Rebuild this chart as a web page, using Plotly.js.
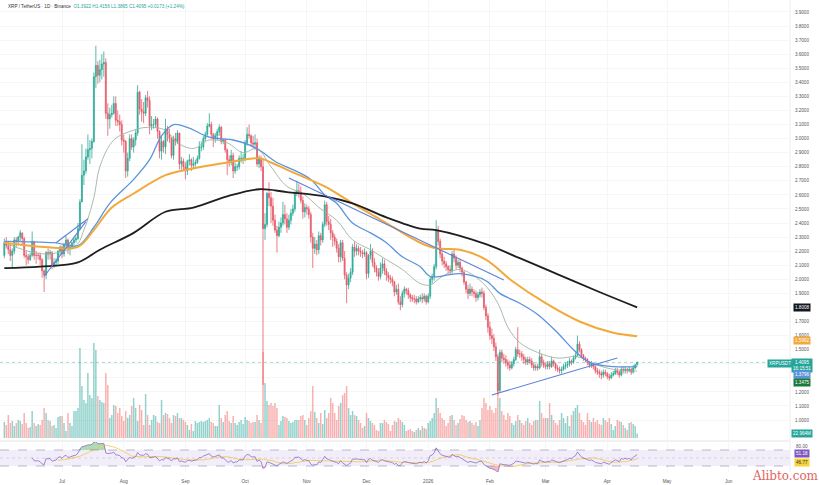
<!DOCTYPE html>
<html><head><meta charset="utf-8">
<script src="https://cdn.plot.ly/plotly-3.0.1.min.js"></script>
<style>html,body{margin:0;padding:0;background:#fff;}#chart{width:819px;height:485px;}</style>
</head><body><div id="chart"></div>
<script>
// ---- daily candles, XRP/USDT 1D, 2 Jun 2025 .. 16 Apr 2026 ----
const openP = [
2.17,2.26,2.24,2.21,2.17,2.20,2.28,2.27,2.30,2.33,2.29,2.17,2.16,2.14,2.17,2.27,2.17,2.17,2.17,2.14,2.06,2.03,2.19,2.18,2.19,2.10,2.12,2.13,2.20,
2.23,2.18,2.25,2.28,2.22,2.23,2.26,2.28,2.29,2.36,2.55,2.74,2.77,2.87,2.92,2.93,2.98,3.44,3.52,3.45,3.49,3.53,3.54,3.18,3.14,3.17,3.18,3.25,3.13,3.12,3.10,
2.99,2.98,2.77,2.86,3.00,2.94,2.99,3.04,3.33,3.21,3.19,3.18,3.29,3.27,3.09,3.10,3.10,3.14,3.05,2.91,2.98,2.94,3.07,3.03,3.00,2.88,3.00,2.98,3.04,2.82,2.84,
2.80,2.77,2.84,2.85,2.81,2.82,2.83,2.86,2.94,2.94,3.00,3.03,3.09,3.10,3.03,3.00,3.02,3.05,3.08,2.98,2.99,2.92,2.85,2.83,2.88,2.77,2.80,2.80,2.86,2.86,
2.86,2.97,3.03,3.02,2.97,2.96,2.97,2.82,2.86,2.80,2.36,2.39,2.61,2.58,2.52,2.42,2.35,2.31,2.37,2.40,2.46,2.43,2.37,2.42,2.47,2.50,2.61,2.63,2.62,2.56,2.48,
2.51,2.50,2.46,2.30,2.22,2.25,2.21,2.31,2.28,2.39,2.53,2.41,2.39,2.33,2.30,2.27,2.22,2.16,2.26,2.15,2.03,1.96,2.01,2.05,2.23,2.20,2.22,2.20,2.19,2.18,
2.19,2.04,2.17,2.20,2.12,2.08,2.05,2.02,2.08,2.11,2.06,2.03,2.01,2.00,1.98,1.91,1.93,1.84,1.82,1.90,1.93,1.92,1.89,1.87,1.86,1.86,1.84,1.86,1.87,1.86,1.88,
1.84,1.88,2.00,2.02,2.09,2.35,2.27,2.18,2.13,2.11,2.09,2.07,2.06,2.18,2.15,2.10,2.12,2.08,2.05,1.98,1.93,1.90,1.93,1.91,1.90,1.87,1.89,1.91,1.90,1.80,1.74,
1.66,1.60,1.58,1.52,1.45,1.21,1.48,1.44,1.43,1.41,1.39,1.37,1.40,1.43,1.50,1.47,1.47,1.45,1.43,1.41,1.43,1.42,1.39,1.37,1.38,1.37,1.45,1.41,
1.39,1.38,1.40,1.38,1.42,1.40,1.37,1.36,1.35,1.36,1.38,1.39,1.40,1.42,1.41,1.44,1.46,1.54,1.50,1.46,1.44,1.43,1.41,1.39,1.40,1.38,1.35,1.34,1.33,1.32,1.34,
1.33,1.31,1.30,1.32,1.33,1.35,1.34,1.32,1.36,1.35,1.36,1.35,1.36,1.34,1.37,1.3922];
const highP = [
2.29,2.30,2.27,2.25,2.22,2.30,2.30,2.31,2.35,2.33,2.30,2.20,2.18,2.19,2.34,2.27,2.20,2.19,2.19,2.15,2.07,2.20,2.22,2.21,2.20,2.15,2.15,2.21,2.24,
2.24,2.26,2.31,2.29,2.25,2.27,2.30,2.31,2.40,2.57,2.96,2.85,2.93,3.03,2.99,3.00,3.47,3.66,3.55,3.56,3.60,3.62,3.57,3.25,3.22,3.24,3.30,3.30,3.20,3.17,3.13,
3.03,2.99,2.90,3.03,3.03,3.01,3.06,3.38,3.34,3.28,3.26,3.31,3.34,3.30,3.16,3.14,3.16,3.15,3.06,3.02,2.99,3.14,3.09,3.07,3.01,3.02,3.04,3.06,3.04,2.87,2.86,
2.83,2.85,2.89,2.86,2.87,2.85,2.88,2.98,2.98,3.02,3.05,3.11,3.18,3.12,3.04,3.04,3.07,3.10,3.09,3.00,3.00,2.93,2.88,2.92,2.90,2.83,2.82,2.88,2.91,2.89,
2.99,3.08,3.10,3.03,3.02,3.03,3.00,2.88,2.88,2.85,2.47,2.62,2.69,2.62,2.58,2.46,2.38,2.41,2.44,2.55,2.53,2.47,2.46,2.50,2.53,2.63,2.70,2.68,2.66,2.59,2.54,
2.53,2.52,2.48,2.33,2.30,2.28,2.34,2.33,2.41,2.56,2.55,2.45,2.43,2.35,2.32,2.29,2.25,2.28,2.28,2.20,2.05,2.04,2.08,2.25,2.27,2.25,2.24,2.23,2.21,2.22,
2.20,2.18,2.25,2.22,2.15,2.10,2.08,2.12,2.15,2.14,2.08,2.05,2.03,2.02,1.99,1.96,1.97,1.88,1.92,1.95,1.94,1.94,1.90,1.89,1.89,1.88,1.88,1.89,1.90,1.90,1.89,
1.90,2.02,2.04,2.11,2.42,2.38,2.29,2.20,2.16,2.13,2.10,2.10,2.20,2.21,2.17,2.14,2.14,2.09,2.06,1.99,1.96,1.97,1.95,1.93,1.92,1.91,1.93,1.94,1.92,1.82,1.76,
1.70,1.65,1.61,1.55,1.47,1.50,1.50,1.47,1.46,1.43,1.42,1.42,1.45,1.52,1.66,1.50,1.49,1.47,1.45,1.45,1.45,1.44,1.41,1.40,1.40,1.50,1.47,1.43,
1.41,1.42,1.42,1.45,1.43,1.41,1.39,1.38,1.38,1.40,1.41,1.42,1.44,1.43,1.46,1.48,1.60,1.56,1.51,1.47,1.45,1.44,1.42,1.42,1.41,1.39,1.37,1.36,1.35,1.36,1.36,
1.34,1.33,1.34,1.35,1.37,1.37,1.35,1.38,1.38,1.38,1.37,1.38,1.37,1.39,1.40,1.4156];
const lowP = [
2.15,2.22,2.18,2.13,2.08,2.18,2.23,2.24,2.27,2.24,2.15,2.10,2.11,2.13,2.16,2.14,2.11,2.14,2.10,2.01,1.91,2.00,2.14,2.14,2.07,2.08,2.09,2.11,2.17,
2.15,2.16,2.23,2.18,2.17,2.21,2.24,2.26,2.28,2.35,2.55,2.67,2.75,2.85,2.82,2.86,2.97,3.36,3.39,3.40,3.42,3.44,3.14,3.02,3.07,3.15,3.17,3.09,3.09,3.05,2.95,
2.90,2.72,2.73,2.84,2.92,2.90,2.95,3.02,3.17,3.12,3.11,3.16,3.22,3.03,3.06,3.07,3.08,3.00,2.86,2.85,2.90,2.89,2.98,2.97,2.86,2.85,2.95,2.96,2.78,2.78,2.77,
2.71,2.74,2.81,2.77,2.78,2.80,2.82,2.85,2.91,2.92,2.98,3.02,3.08,3.00,2.94,2.97,2.99,3.02,2.96,2.96,2.90,2.74,2.80,2.81,2.72,2.75,2.77,2.78,2.83,2.82,
2.84,2.95,3.00,2.94,2.93,2.92,2.80,2.79,2.77,1.25,2.28,2.37,2.52,2.40,2.38,2.33,2.19,2.30,2.33,2.38,2.39,2.33,2.35,2.39,2.45,2.48,2.59,2.58,2.54,2.43,2.44,
2.46,2.43,2.26,2.08,2.18,2.17,2.18,2.24,2.26,2.37,2.38,2.35,2.28,2.23,2.24,2.19,2.12,2.12,2.13,2.00,1.83,1.93,1.98,2.03,2.16,2.17,2.17,2.16,2.15,2.16,
2.00,2.01,2.14,2.09,2.05,2.02,1.99,2.00,2.04,2.03,1.99,1.98,1.97,1.95,1.88,1.89,1.82,1.78,1.80,1.87,1.89,1.86,1.84,1.84,1.83,1.82,1.83,1.84,1.83,1.84,1.82,
1.83,1.86,1.97,1.99,2.07,2.24,2.15,2.10,2.08,2.06,2.04,2.03,2.04,2.12,2.07,2.08,2.05,2.02,1.96,1.90,1.86,1.88,1.88,1.87,1.84,1.85,1.87,1.87,1.78,1.71,1.62,
1.57,1.54,1.49,1.42,1.18,1.20,1.41,1.40,1.38,1.36,1.35,1.36,1.38,1.42,1.45,1.44,1.42,1.40,1.39,1.39,1.40,1.37,1.35,1.35,1.35,1.36,1.38,1.37,
1.36,1.36,1.36,1.37,1.38,1.35,1.34,1.33,1.33,1.35,1.36,1.37,1.38,1.39,1.40,1.43,1.45,1.48,1.44,1.42,1.41,1.39,1.37,1.37,1.36,1.33,1.32,1.30,1.29,1.30,1.31,
1.29,1.28,1.29,1.31,1.32,1.32,1.30,1.31,1.33,1.33,1.33,1.34,1.32,1.33,1.36,1.3865];
const closeP = [
2.26,2.24,2.21,2.17,2.20,2.28,2.27,2.30,2.33,2.29,2.17,2.16,2.14,2.17,2.27,2.17,2.17,2.17,2.14,2.06,2.03,2.19,2.18,2.19,2.10,2.12,2.13,2.20,2.23,
2.18,2.25,2.28,2.22,2.23,2.26,2.28,2.29,2.36,2.55,2.74,2.77,2.87,2.92,2.93,2.98,3.44,3.52,3.45,3.49,3.53,3.54,3.18,3.14,3.17,3.18,3.25,3.13,3.12,3.10,2.99,
2.98,2.77,2.86,3.00,2.94,2.99,3.04,3.33,3.21,3.19,3.18,3.29,3.27,3.09,3.10,3.10,3.14,3.05,2.91,2.98,2.94,3.07,3.03,3.00,2.88,3.00,2.98,3.04,2.82,2.84,2.80,
2.77,2.84,2.85,2.81,2.82,2.83,2.86,2.94,2.94,3.00,3.03,3.09,3.10,3.03,3.00,3.02,3.05,3.08,2.98,2.99,2.92,2.85,2.83,2.88,2.77,2.80,2.80,2.86,2.86,2.86,
2.97,3.03,3.02,2.97,2.96,2.97,2.82,2.86,2.80,2.36,2.39,2.61,2.58,2.52,2.42,2.35,2.31,2.37,2.40,2.46,2.43,2.37,2.42,2.47,2.50,2.61,2.63,2.62,2.56,2.48,2.51,
2.50,2.46,2.30,2.22,2.25,2.21,2.31,2.28,2.39,2.53,2.41,2.39,2.33,2.30,2.27,2.22,2.16,2.26,2.15,2.03,1.96,2.01,2.05,2.23,2.20,2.22,2.20,2.19,2.18,2.19,
2.04,2.17,2.20,2.12,2.08,2.05,2.02,2.08,2.11,2.06,2.03,2.01,2.00,1.98,1.91,1.93,1.84,1.82,1.90,1.93,1.92,1.89,1.87,1.86,1.86,1.84,1.86,1.87,1.86,1.88,1.84,
1.88,2.00,2.02,2.09,2.35,2.27,2.18,2.13,2.11,2.09,2.07,2.06,2.18,2.15,2.10,2.12,2.08,2.05,1.98,1.93,1.90,1.93,1.91,1.90,1.87,1.89,1.91,1.90,1.80,1.74,1.66,
1.60,1.58,1.52,1.45,1.21,1.48,1.44,1.43,1.41,1.39,1.37,1.40,1.43,1.50,1.47,1.47,1.45,1.43,1.41,1.43,1.42,1.39,1.37,1.38,1.37,1.45,1.41,1.39,
1.38,1.40,1.38,1.42,1.40,1.37,1.36,1.35,1.36,1.38,1.39,1.40,1.42,1.41,1.44,1.46,1.54,1.50,1.46,1.44,1.43,1.41,1.39,1.40,1.38,1.35,1.34,1.33,1.32,1.34,1.33,
1.31,1.30,1.32,1.33,1.35,1.34,1.32,1.36,1.35,1.36,1.35,1.36,1.34,1.37,1.3922,1.4095];
const volumeM = [
80,65,115,75,85,60,75,90,85,70,125,75,50,55,135,75,60,70,65,90,150,125,90,85,60,65,50,105,110,
110,75,35,125,75,60,135,135,150,450,260,190,175,325,215,200,475,440,210,190,180,175,325,265,100,115,165,160,125,150,110,
85,135,100,115,160,200,150,85,165,140,65,220,115,65,90,115,110,80,75,190,115,125,120,100,75,115,110,125,100,100,90,
80,65,40,70,35,85,75,80,85,80,85,90,100,80,75,60,60,165,100,80,115,135,85,75,110,75,65,80,90,70,
105,90,85,75,80,80,115,90,75,430,275,185,165,175,160,175,150,65,85,110,105,100,85,75,80,90,90,90,110,115,90,
65,100,135,260,130,100,75,125,70,140,100,125,200,175,125,90,160,175,215,225,260,150,115,135,115,110,90,75,50,60,
125,100,85,75,65,40,35,75,75,90,80,70,35,65,85,80,100,90,80,65,35,40,45,35,30,40,50,40,60,50,45,
75,85,100,125,200,150,125,100,90,60,75,110,115,90,65,75,95,115,110,90,80,85,75,65,80,60,90,150,200,175,140,
160,140,125,150,275,200,135,115,90,125,110,75,65,85,115,90,75,65,85,100,75,65,85,90,90,185,125,100,
100,100,175,115,90,75,65,90,125,100,75,110,60,115,135,150,165,125,90,80,65,125,90,80,100,80,90,70,65,100,90,
80,100,70,40,60,90,85,80,65,50,40,75,80,70,60,22.964];

// ---- moving-average lines (day index from 2 Jun 2025, value) ----
const ma200Day = [0,18,37,48,65,81,95,112,128,142,161,175,192,209,217,242,259,279,299,318];
const ma200Val = [2.08,2.09,2.12,2.21,2.33,2.48,2.51,2.59,2.64,2.62,2.59,2.54,2.44,2.36,2.35,2.25,2.15,2.03,1.91,1.8008];
const ma100Day = [0,20,37,45,54,65,81,92,112,128,134,145,161,175,192,209,217,229,242,255,272,289,306,318];
const ma100Val = [2.26,2.23,2.23,2.35,2.51,2.61,2.74,2.78,2.83,2.86,2.83,2.76,2.66,2.54,2.40,2.26,2.22,2.21,2.14,1.99,1.83,1.70,1.62,1.5962];
const ma50Day = [0,25,37,45,53,65,73,79,85,92,103,115,124,129,137,145,154,161,167,175,184,192,200,209,214,229,242,249,259,268,278,286,294,306,318];
const ma50Val = [2.27,2.26,2.24,2.37,2.54,2.71,2.85,3.02,3.10,3.08,3.01,2.99,2.95,2.91,2.83,2.78,2.71,2.60,2.54,2.40,2.33,2.26,2.16,2.09,2.02,2.04,1.99,1.90,1.83,1.75,1.62,1.50,1.41,1.38,1.3796];
const ma20Day = [0,20,36,40,45,48,55,65,72,81,87,95,103,112,120,127,134,142,150,159,167,175,184,192,200,209,214,220,229,240,248,253,259,268,278,288,296,306,318];
const ma20Val = [2.26,2.18,2.24,2.35,2.58,2.80,2.99,3.06,3.08,3.06,2.97,2.93,2.99,2.97,2.90,2.93,2.80,2.66,2.61,2.50,2.42,2.28,2.21,2.14,2.07,1.97,1.96,2.02,2.07,1.98,1.83,1.66,1.55,1.48,1.44,1.45,1.40,1.36,1.3475];

// ---- drawn trend lines (day index, price) ----
const trendLines = [
  {d:[20,41], p:[2.02,2.41]},
  {d:[26,42], p:[2.26,2.43]},
  {d:[143,251], p:[2.72,1.995]},
  {d:[245,308], p:[1.178,1.441]}
];

// ---- axis labels ----
const priceTicks = [1.0,1.1,1.2,1.3,1.4,1.5,1.6,1.7,1.8,1.9,2.0,2.1,2.2,2.3,2.4,2.5,2.6,2.7,2.8,2.9,3.0,3.1,3.2,3.3,3.4,3.5,3.6,3.7,3.8,3.9];
const monthTicks = ['2025-07-01','2025-08-01','2025-09-01','2025-10-01','2025-11-01','2025-12-01','2026-01-01','2026-02-01','2026-03-01','2026-04-01','2026-05-01','2026-06-01'];
const monthLabels = ['Jul','Aug','Sep','Oct','Nov','Dec','2026','Feb','Mar','Apr','May','Jun'];

function dayStr(i){ const d = new Date(Date.UTC(2025,5,2) + Math.round(i)*86400000); return d.toISOString().slice(0,10); }
const dates = closeP.map((_,i)=>dayStr(i));

// RSI (14, Wilder) and its 14-SMA, computed from the closes
function rsiCalc(cl,n){
  const out = new Array(cl.length).fill(null); let g=0,l=0;
  for(let i=1;i<cl.length;i++){
    const ch = cl[i]-cl[i-1], up=Math.max(ch,0), dn=Math.max(-ch,0);
    if(i<=n){ g+=up; l+=dn; if(i===n){ g/=n; l/=n; out[i]=100-100/(1+g/(l||1e-9)); } }
    else { g=(g*(n-1)+up)/n; l=(l*(n-1)+dn)/n; out[i]=100-100/(1+g/(l||1e-9)); }
  }
  return out;
}
const rsi = rsiCalc(closeP,14);
const rsiMa = rsi.map((v,i)=>{ const w=rsi.slice(Math.max(0,i-13),i+1).filter(x=>x!==null); return (v===null||w.length<14)?null:w.reduce((a,b)=>a+b,0)/w.length; });

// ---- geometry ----
const W=819,H=485,ML=0,MR=29,MT=0,MB=13;
const PW=W-ML-MR, PH=H-MT-MB;
const px = x => (x-ML)/PW;
const py = y => 1-(y-MT)/PH;

const INC='#2bab97', DEC='#e65a6a';
const volCol = closeP.map((c,i)=> c>=openP[i] ? 'rgba(38,166,154,0.5)' : 'rgba(239,83,80,0.45)');

const traces = [
  {type:'bar', x:dates, y:volumeM, yaxis:'y2', marker:{color:volCol, line:{width:0}}, hoverinfo:'skip'},
  {type:'candlestick', x:dates, open:openP, high:highP, low:lowP, close:closeP,
   increasing:{line:{color:INC,width:0.8}, fillcolor:INC},
   decreasing:{line:{color:DEC,width:0.8}, fillcolor:DEC}, whiskerwidth:0, hoverinfo:'skip'},
  {type:'scatter', mode:'lines', x:ma20Day.map(dayStr), y:ma20Val, line:{color:'rgba(160,180,160,0.9)', width:1, shape:'spline', smoothing:1}, hoverinfo:'skip'},
  {type:'scatter', mode:'lines', x:ma50Day.map(dayStr), y:ma50Val, line:{color:'#5b93dc', width:1.3, shape:'spline', smoothing:1}, hoverinfo:'skip'},
  {type:'scatter', mode:'lines', x:ma100Day.map(dayStr), y:ma100Val, line:{color:'#f2a93b', width:2, shape:'spline', smoothing:1}, hoverinfo:'skip'},
  {type:'scatter', mode:'lines', x:ma200Day.map(dayStr), y:ma200Val, line:{color:'#1e1e1e', width:1.8, shape:'spline', smoothing:1}, hoverinfo:'skip'}
];
trendLines.forEach(t=>traces.push({type:'scatter', mode:'lines', x:t.d.map(dayStr), y:t.p, line:{color:'#5f7fd8', width:1.1}, hoverinfo:'skip'}));
// RSI pane
traces.push({type:'scatter', mode:'lines', x:dates, y:rsi.map(v=>v===null?null:70), yaxis:'y3', line:{width:0,color:'rgba(0,0,0,0)'}, hoverinfo:'skip'});
traces.push({type:'scatter', mode:'lines', x:dates, y:rsi.map(v=>v===null?null:Math.max(v,70)), yaxis:'y3', line:{width:0,color:'rgba(0,0,0,0)'}, fill:'tonexty', fillcolor:'rgba(76,175,80,0.45)', hoverinfo:'skip'});
traces.push({type:'scatter', mode:'lines', x:dates, y:rsi.map(v=>v===null?null:30), yaxis:'y3', line:{width:0,color:'rgba(0,0,0,0)'}, hoverinfo:'skip'});
traces.push({type:'scatter', mode:'lines', x:dates, y:rsi.map(v=>v===null?null:Math.min(v,30)), yaxis:'y3', line:{width:0,color:'rgba(0,0,0,0)'}, fill:'tonexty', fillcolor:'rgba(242,54,69,0.35)', hoverinfo:'skip'});
traces.push({type:'scatter', mode:'lines', x:dates, y:rsiMa, yaxis:'y3', line:{color:'#f3c846', width:0.8}, hoverinfo:'skip'});
traces.push({type:'scatter', mode:'lines', x:dates, y:rsi, yaxis:'y3', line:{color:'#8a6cc6', width:0.8}, hoverinfo:'skip'});

const F = 'Liberation Sans, Arial, sans-serif';
function box(text, ypx, bg, fg, xpx){
  return {xref:'paper', yref:'paper', x:px(xpx||802), y:py(ypx), text:text, showarrow:false,
          xanchor:'center', yanchor:'middle', bgcolor:bg, borderpad:1,
          font:{family:F, size:4.6, color:fg||'#fff'}};
}
const annotations = [
  {xref:'paper', yref:'paper', x:px(6), y:py(7), xanchor:'left', yanchor:'middle', showarrow:false,
   text:'XRP / TetherUS · 1D · Binance&nbsp;&nbsp;<span style="color:#26a69a">O1.3922 H1.4156 L1.3865 C1.4095 +0.0173 (+1.24%)</span>',
   font:{family:F, size:4.6, color:'#333'}},
  box('1.8008', 307, '#131722'),
  box('1.5962', 340, '#f2a93b'),
  box('XRPUSDT', 363, '#26a69a', '#fff', 780),
  box('1.4095<br>16:15:51', 365, '#26a69a'),
  box('1.3796', 374, '#5b93dc'),
  box('1.3475', 382, '#1b7a3a'),
  box('22.964M', 433, '#26a69a'),
  {xref:'paper', yref:'paper', x:px(802), y:py(446), xanchor:'center', yanchor:'middle', showarrow:false, text:'80.00', font:{family:F, size:4.6, color:'#555'}},
  box('51.18', 453, '#7e57c2'),
  box('46.77', 462, '#f5d33a', '#333'),
  {xref:'paper', yref:'paper', x:px(785), y:py(476), xanchor:'center', yanchor:'middle', showarrow:false,
   text:'Alibto.com', font:{family:'DejaVu Serif, serif', size:12, color:'#e06464'}}
];

const shapes = [
  {type:'rect', xref:'paper', x0:0, x1:1, yref:'y3', y0:30, y1:70, fillcolor:'rgba(126,87,194,0.10)', line:{width:0}, layer:'below'},
  {type:'line', xref:'paper', x0:0, x1:1, yref:'y3', y0:70, y1:70, line:{color:'rgba(120,110,160,0.7)', width:0.7, dash:'dash'}},
  {type:'line', xref:'paper', x0:0, x1:1, yref:'y3', y0:30, y1:30, line:{color:'rgba(120,110,160,0.7)', width:0.7, dash:'dash'}},
  {type:'line', xref:'paper', x0:0, x1:1, yref:'y3', y0:50, y1:50, line:{color:'rgba(120,110,160,0.35)', width:0.6, dash:'dot'}},
  {type:'line', xref:'paper', x0:0, x1:1, yref:'y', y0:1.4095, y1:1.4095, line:{color:'rgba(38,166,154,0.6)', width:0.7, dash:'dot'}},
  {type:'line', xref:'paper', x0:0, x1:1, yref:'paper', y0:py(441), y1:py(441), line:{color:'#e4e4e4', width:1}},
  {type:'line', xref:'paper', x0:1, x1:1, yref:'paper', y0:0, y1:1, line:{color:'#eeeeee', width:1}}
];

const layout = {
  width:W, height:H, margin:{l:ML, r:MR, t:MT, b:MB}, paper_bgcolor:'#fff', plot_bgcolor:'#fff',
  showlegend:false, bargap:0.25,
  xaxis:{type:'date', range:['2025-05-30 20:00','2026-07-01 19:00'], anchor:'y3',
         tickvals:monthTicks, ticktext:monthLabels, tickfont:{family:F, size:4.6, color:'#555'},
         ticks:'outside', ticklen:4, tickcolor:'rgba(0,0,0,0)',
         showgrid:true, gridcolor:'#f2f2f2', gridwidth:0.7, zeroline:false, showline:false,
         rangeslider:{visible:false}, fixedrange:true},
  yaxis:{domain:[py(440),1], range:[0.858,3.985], side:'right', anchor:'x',
         tickvals:priceTicks, ticktext:priceTicks.map(v=>v.toFixed(4)),
         tickfont:{family:F, size:4.6, color:'#555'}, ticks:'outside', ticklen:3, tickcolor:'rgba(0,0,0,0)',
         showgrid:true, gridcolor:'#f2f2f2', gridwidth:0.7, zeroline:false, showline:false},
  yaxis2:{overlaying:'y', range:[-10,2190], visible:false, showgrid:false},
  yaxis3:{domain:[0,py(442)], range:[15,90], anchor:'x', side:'right', showticklabels:false,
          showgrid:false, zeroline:false, showline:false},
  annotations:annotations, shapes:shapes
};

Plotly.newPlot('chart', traces, layout, {staticPlot:true, displayModeBar:false});
</script>
</body></html>
